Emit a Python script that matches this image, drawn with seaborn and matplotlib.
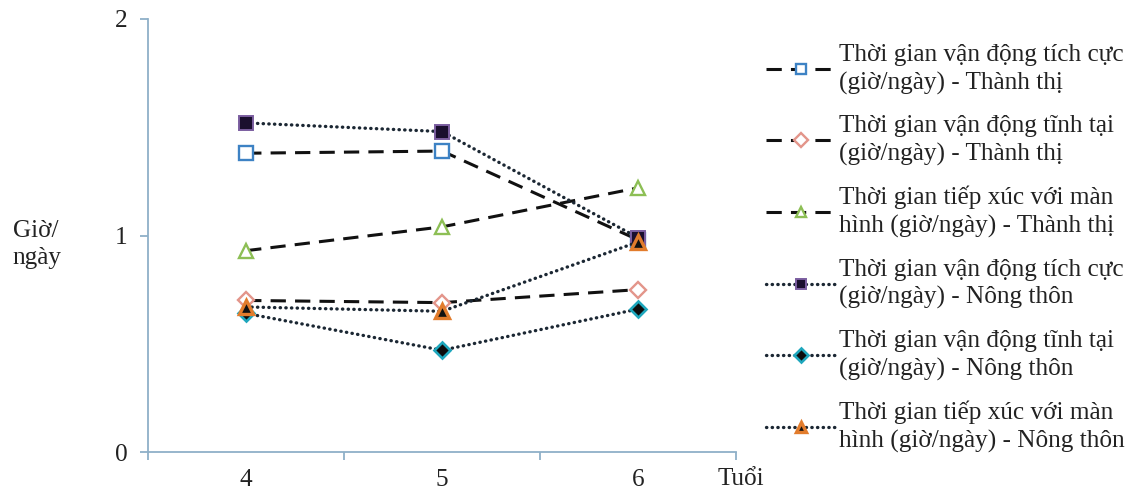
import matplotlib
matplotlib.use("Agg")
import matplotlib.pyplot as plt
import seaborn as sns

# Ages (years) and mean hours per day for each activity / area
ages = [4, 5, 6]
urban_active = [1.38, 1.39, 0.98]
urban_sedentary = [0.70, 0.69, 0.75]
urban_screen = [0.93, 1.04, 1.22]
rural_active = [1.52, 1.48, 0.99]
rural_sedentary = [0.64, 0.47, 0.66]
rural_screen = [0.67, 0.65, 0.97]

labels = [
    "Thời gian vận động tích cực\n(giờ/ngày) - Thành thị",
    "Thời gian vận động tĩnh tại\n(giờ/ngày) - Thành thị",
    "Thời gian tiếp xúc với màn\nhình (giờ/ngày) - Thành thị",
    "Thời gian vận động tích cực\n(giờ/ngày) - Nông thôn",
    "Thời gian vận động tĩnh tại\n(giờ/ngày) - Nông thôn",
    "Thời gian tiếp xúc với màn\nhình (giờ/ngày) - Nông thôn",
]
y_ticks = [0, 1, 2]
x_label = "Tuổi"
y_label = "Giờ/\nngày"

sns.set_style("white")
plt.rcParams["font.family"] = ["Liberation Serif", "DejaVu Serif"]

FS = 18.2
fig = plt.figure(figsize=(11.4, 4.96), dpi=100)
ax = fig.add_axes([0.130, 0.0887, 0.5156, 0.873])

dash = (0, (5, 3))
dot = (0, (0.1, 1.6))
series = [
    (urban_active, dash, "s", "white", "#3d82c4", 1.7),
    (urban_sedentary, dash, "D", "white", "#e3958a", 1.7),
    (urban_screen, dash, "^", "white", "#8dbf55", 1.7),
    (rural_active, dot, "s", "#1a0f2e", "#7b5ea0", 1.4),
    (rural_sedentary, dot, "D", "#0d0d0d", "#1ea7bd", 1.9),
    (rural_screen, dot, "^", "#111111", "#e27c2c", 2.4),
]

for vals, ls, mk, fc, ec, mew in series:
    ds = ls is dot
    sns.lineplot(
        x=ages, y=vals, ax=ax, color="#1b2733" if ds else "#111111",
        linestyle=ls, linewidth=2.4 if ds else 2.2,
        dash_capstyle="round" if ds else "butt",
        marker=mk, markersize=10 if mk != "D" else 8.5,
        markerfacecolor=fc, markeredgecolor=ec, markeredgewidth=mew,
    )

ax.set_xlim(3.5, 6.5)
ax.set_ylim(0, 2)
ax.set_yticks(y_ticks)
ax.set_yticklabels([str(t) for t in y_ticks], fontsize=FS)
# Category boundaries carry the ticks; labels sit at the category centres
ax.set_xticks([3.5, 4.5, 5.5, 6.5])
ax.set_xticklabels([])
for a in ages:
    ax.text(a, -0.08, str(a), ha="center", va="top", fontsize=FS,
            color="#222222")
ax.text(6.405, -0.075, x_label, ha="left", va="top", fontsize=FS,
        color="#222222")

axis_color = "#8fb0c8"
for side in ["top", "right"]:
    ax.spines[side].set_visible(False)
for side in ["left", "bottom"]:
    ax.spines[side].set_color(axis_color)
    ax.spines[side].set_linewidth(1.3)
ax.tick_params(axis="both", which="major", bottom=True, left=True,
               direction="out", length=6, width=1.3,
               color=axis_color, labelcolor="#222222", pad=9)

fig.text(0.011, 0.507, y_label, ha="left", va="center", fontsize=FS,
         linespacing=1.33, color="#222222")

handles = ax.get_lines()
leg = fig.legend(
    handles, labels, loc="upper left", bbox_to_anchor=(0.652, 0.958),
    frameon=False, fontsize=FS, handlelength=2.8, handletextpad=0.1,
    labelspacing=0.8,
)
for h in leg.legend_handles:
    h.set_markersize(7.5)
for t in leg.get_texts():
    t.set_linespacing(1.33)
    t.set_color("#222222")

ax.grid(False)
fig.savefig("out.png", dpi=100, facecolor="white")
